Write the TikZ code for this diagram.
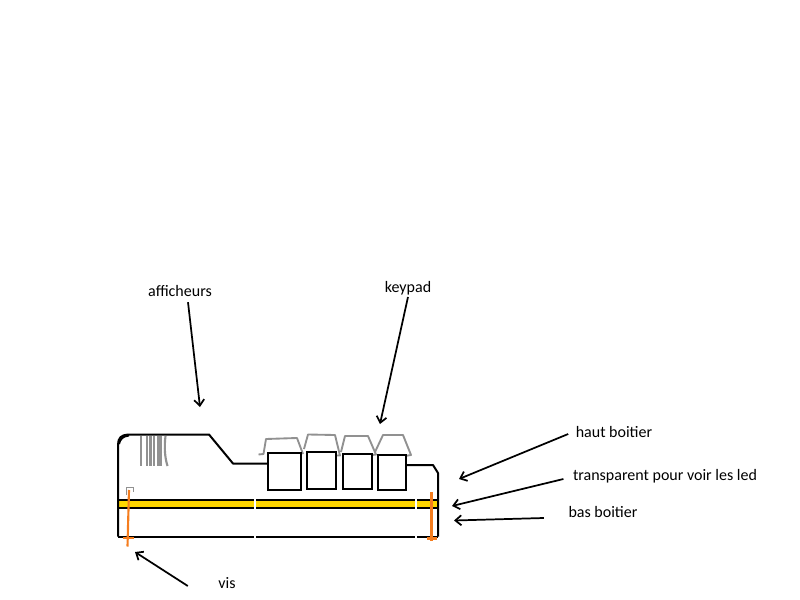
\documentclass[tikz,border=0pt]{standalone}
\usepackage{fontspec}
\setmainfont{Carlito}
\usepackage{tikz}
\usetikzlibrary{arrows.meta,positioning,calc}
\definecolor{bandyellow}{RGB}{255,214,0}
\definecolor{screworange}{RGB}{245,125,30}
\definecolor{sketchgrey}{RGB}{145,145,145}
\def\bandtop{499.5}
\def\bandbottom{508}
\def\caselineleft{118}
\def\caselineright{438}
\def\casebottom{536.5}
\tikzset{
  caseline/.style={line width=1.5pt,black,line join=round},
  keybox/.style={draw=black,line width=1.5pt,fill=white,inner sep=0,minimum width=#1},
  keycap/.style={line width=1.4pt,sketchgrey,line join=round},
  digitline/.style={line width=1.6pt,sketchgrey},
  screwline/.style={line width=1.6pt,screworange},
  pointer/.style={-{Straight Barb[length=4.5pt,width=7.5pt]},line width=1.3pt,black},
  textlabel/.style={font=\fontsize{12}{14}\selectfont,inner sep=1pt,text=black}
}

\begin{document}
\begin{tikzpicture}[x=0.75pt,y=-0.75pt]
  \useasboundingbox (0,0) rectangle (800,600);

  % band and base
  \fill[bandyellow] (\caselineleft,\bandtop) rectangle (\caselineright,\bandbottom);
  \draw[caseline] (\caselineleft,\bandtop) -- (\caselineright,\bandtop);
  \draw[caseline] (\caselineleft,\bandbottom) -- (\caselineright,\bandbottom);
  \draw[caseline] (\caselineleft,\casebottom) -- (\caselineright,\casebottom);

  % top shell
  \draw[caseline] (\caselineleft,\casebottom) -- (\caselineleft,445) .. controls (118,438) and (121,435) .. (128,434.5)
    -- (209,434.5) -- (233,463.5) -- (268,463.5);
  \draw[caseline] (119,444) .. controls (120,439) and (123,436) .. (129,435.5);
  \draw[caseline] (406,465) -- (433,465) -- (438,473) -- (\caselineright,\casebottom);

  % gaps in the lines
  \draw[white,line width=0.8pt] (255,497) -- (255,510);
  \draw[white,line width=0.8pt] (255,534) -- (255,539);
  \draw[white,line width=0.8pt] (416,497) -- (416,510);
  \draw[white,line width=0.8pt] (416,534) -- (416,539);

  % digits
  \draw[digitline] (141,436) -- (141,466);
  \draw[digitline] (147,436) -- (147,466);
  \draw[digitline] (150.5,436) -- (150.5,466);
  \draw[digitline] (154,436) -- (154,466);
  \draw[digitline] (158.5,436) -- (158.5,466);
  \draw[digitline] (161,436) -- (161,466);
  \draw[digitline] (165.5,436) .. controls (164,448) and (165,458) .. (167.5,466);

  % keycaps
  \draw[keycap] (258.5,454.5) -- (263.5,454) -- (266,439) -- (297,438) -- (303,454);
  \draw[keycap] (304,449) -- (308,434.5) -- (335,435) -- (340,455.5) -- (333,455.5);
  \draw[keycap] (341,452) -- (345,436) -- (368,436) -- (376,454.5) -- (372,455);
  \draw[keycap] (375,452) -- (383,435) -- (403,435) -- (411,455) -- (405,456);

  % keys
  \node[keybox=25pt,minimum height=27.75pt] (keyA) at (284.5,471.5) {};
  \node[keybox=22pt,minimum height=27.75pt] (keyB) at (321.5,470.5) {};
  \node[keybox=22pt,minimum height=26.6pt] (keyC) at (357.5,471.5) {};
  \node[keybox=21.4pt,minimum height=26.6pt] (keyD) at (392,472.5) {};

  % screws
  \draw[sketchgrey,line width=0.5pt] (126.5,495) -- (126.5,487.5) -- (133,487.5) -- (133,492);
  \draw[screwline] (129,490) -- (127.5,546.5);
  \draw[screwline] (123,538) -- (134,538);
  \draw[screwline] (431.5,492) -- (431.5,541);
  \draw[screwline] (427,538.5) -- (437,538.5);

  % labels
  \node[textlabel] (afficheurs) at (180,291) {afficheurs};
  \node[textlabel] (keypad) at (408,288.5) {keypad};
  \node[textlabel] (hautboitier) at (614,432) {haut boitier};
  \node[textlabel] (transparent) at (665,476.5) {transparent pour voir les led};
  \node[textlabel] (basboitier) at (603,512) {bas boitier};
  \node[textlabel] (vis) at (227,583.5) {vis};

  \coordinate (afficheursEnd) at (200,407);
  \coordinate (keypadEnd) at (380,424);
  \coordinate (hautEnd) at (459,479);
  \coordinate (transparentEnd) at (452,506);
  \coordinate (basEnd) at (454,520.5);
  \coordinate (visEnd) at (135,552);

  \draw[pointer] ($ (afficheurs.south) + (8,4) $) -- (afficheursEnd);
  \draw[pointer] ($ (keypad.south) + (0,0) $) -- (keypadEnd);
  \draw[pointer] ($ (hautboitier.west) + (-6,2) $) -- (hautEnd);
  \draw[pointer] ($ (transparent.west) + (-8,2.5) $) -- (transparentEnd);
  \draw[pointer] ($ (basboitier.west) + (-23,6) $) -- (basEnd);
  \draw[pointer] ($ (vis.west) + (-29,2.5) $) -- (visEnd);
\end{tikzpicture}
\end{document}
